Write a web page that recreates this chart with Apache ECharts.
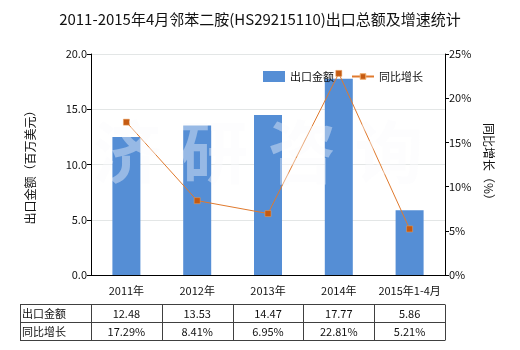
<!DOCTYPE html>
<html>
<head>
<meta charset="utf-8">
<script src="https://cdn.jsdelivr.net/npm/echarts@6/dist/echarts.min.js"></script>
<style>
html,body{margin:0;padding:0;background:#fff;}
#chart{width:520px;height:350px;}
</style>
</head>
<body>
<div id="chart"></div>
<script>
// Export value (million USD) and year-on-year growth (%)
var categories = ['2011年', '2012年', '2013年', '2014年', '2015年1-4月'];
var exportValues = [12.48, 13.53, 14.47, 17.77, 5.86];
var growthRates = [17.29, 8.41, 6.95, 22.81, 5.21];
var rowNames = ['出口金额', '同比增长'];
var watermarkChars = ['济', '研', '咨', '询'];

var FONT = '"Noto Sans CJK SC", "Microsoft YaHei", sans-serif';
var BAR_COLOR = '#558ed5';
var LINE_COLOR = '#e07a2e';
var MARK_COLOR = '#c55a11';

var chart = echarts.init(document.getElementById('chart'), null, {renderer: 'canvas'});

var legendText = {fontFamily: FONT, fontSize: 11, color: '#111'};

var option = {
  backgroundColor: '#fff',
  animation: false,
  textStyle: {fontFamily: FONT},
  title: {
    text: '2011-2015年4月邻苯二胺(HS29215110)出口总额及增速统计',
    left: 'center',
    top: 7,
    textStyle: {fontFamily: FONT, fontSize: 15, fontWeight: 'normal', color: '#111'}
  },
  legend: [
    {
      left: 258, top: 66, itemWidth: 22, itemHeight: 11,
      textStyle: legendText,
      data: [{name: '出口金额', icon: 'rect'}]
    },
    {
      left: 346, top: 66, itemWidth: 22, itemHeight: 7,
      textStyle: legendText,
      data: [{name: '同比增长', itemStyle: {color: MARK_COLOR, borderColor: '#f0b070', borderWidth: 1}}]
    }
  ],
  grid: {left: 91, right: 75, top: 54, bottom: 75},
  xAxis: {
    type: 'category',
    data: categories,
    axisLine: {lineStyle: {color: '#000', width: 1}},
    axisTick: {alignWithLabel: true, length: 4, lineStyle: {color: '#000'}},
    axisLabel: {fontFamily: FONT, fontSize: 11, color: '#111', margin: 10, interval: 0}
  },
  yAxis: [
    {
      type: 'value', min: 0, max: 20, interval: 5,
      name: '出口金额（百万美元）',
      nameLocation: 'middle', nameGap: 55, nameRotate: 90,
      nameTextStyle: {fontFamily: FONT, fontSize: 12, color: '#111'},
      axisLine: {show: true, lineStyle: {color: '#000'}},
      axisTick: {show: true, length: 4, lineStyle: {color: '#000'}},
      axisLabel: {fontFamily: FONT, fontSize: 11, color: '#111', margin: 4,
        formatter: function (v) { return v.toFixed(1); }},
      splitLine: {show: true, lineStyle: {color: '#e3e6e6', width: 1}}
    },
    {
      type: 'value', min: 0, max: 25, interval: 5,
      name: '同比增长（%）',
      nameLocation: 'middle', nameGap: 38, nameRotate: -90,
      nameTextStyle: {fontFamily: FONT, fontSize: 12, color: '#111'},
      axisLine: {show: true, lineStyle: {color: '#000'}},
      axisTick: {show: true, length: 4, lineStyle: {color: '#000'}},
      axisLabel: {fontFamily: FONT, fontSize: 11, color: '#111', margin: 4,
        formatter: '{value}%'},
      splitLine: {show: false}
    }
  ],
  series: [
    {
      name: '出口金额',
      type: 'bar',
      yAxisIndex: 0,
      barWidth: 28,
      itemStyle: {color: BAR_COLOR},
      data: exportValues,
      z: 2
    },
    {
      name: '同比增长',
      type: 'line',
      yAxisIndex: 1,
      symbol: 'rect',
      symbolSize: 6,
      lineStyle: {color: LINE_COLOR, width: 1},
      itemStyle: {color: MARK_COLOR, borderColor: '#e8a060', borderWidth: 0.5},
      data: growthRates,
      z: 3
    }
  ]
};

chart.setOption(option);

// Watermark and data table underneath the plot
function buildGraphics() {
  var els = [];
  var watermarkX = [93, 180, 268, 355];
  watermarkChars.forEach(function (ch, i) {
    els.push({
      type: 'text', left: watermarkX[i], top: 118, z: 10, silent: true,
      style: {text: ch, fontFamily: FONT, fontSize: 68, fontWeight: 'bold',
        fill: 'rgba(250,250,252,0.4)'}
    });
  });

  var centers = categories.map(function (c, i) {
    return chart.convertToPixel({xAxisIndex: 0}, i);
  });
  var step = centers[1] - centers[0];
  var tableLeft = 20;
  var firstColRight = centers[0] - step / 2;
  var tableRight = centers[centers.length - 1] + step / 2;
  var rowTop = 304, rowH = 18;
  var lineStyle = {stroke: '#404040', lineWidth: 1};

  // horizontal lines
  for (var r = 0; r <= rowNames.length; r++) {
    var y = Math.round(rowTop + r * rowH) + 0.5;
    els.push({type: 'line', shape: {x1: tableLeft, y1: y, x2: tableRight, y2: y}, style: lineStyle});
  }
  // vertical lines
  var vx = [tableLeft, firstColRight];
  centers.forEach(function (c) { vx.push(c + step / 2); });
  vx.forEach(function (x) {
    var xx = Math.round(x) + 0.5;
    els.push({type: 'line', shape: {x1: xx, y1: rowTop + 0.5, x2: xx, y2: rowTop + rowNames.length * rowH + 0.5}, style: lineStyle});
  });

  var rows = [
    exportValues.map(function (v) { return v.toFixed(2); }),
    growthRates.map(function (v) { return v.toFixed(2) + '%'; })
  ];
  rowNames.forEach(function (name, r) {
    var cy = rowTop + r * rowH + rowH / 2 + 1;
    els.push({type: 'text', x: tableLeft + 2, y: cy,
      style: {text: name, fontFamily: FONT, fontSize: 11, fill: '#111', verticalAlign: 'middle', align: 'left'}});
    rows[r].forEach(function (t, i) {
      els.push({type: 'text', x: centers[i], y: cy,
        style: {text: t, fontFamily: FONT, fontSize: 11, fill: '#111', verticalAlign: 'middle', align: 'center'}});
    });
  });

  chart.setOption({graphic: {elements: els}});
}
buildGraphics();
</script>
</body>
</html>
